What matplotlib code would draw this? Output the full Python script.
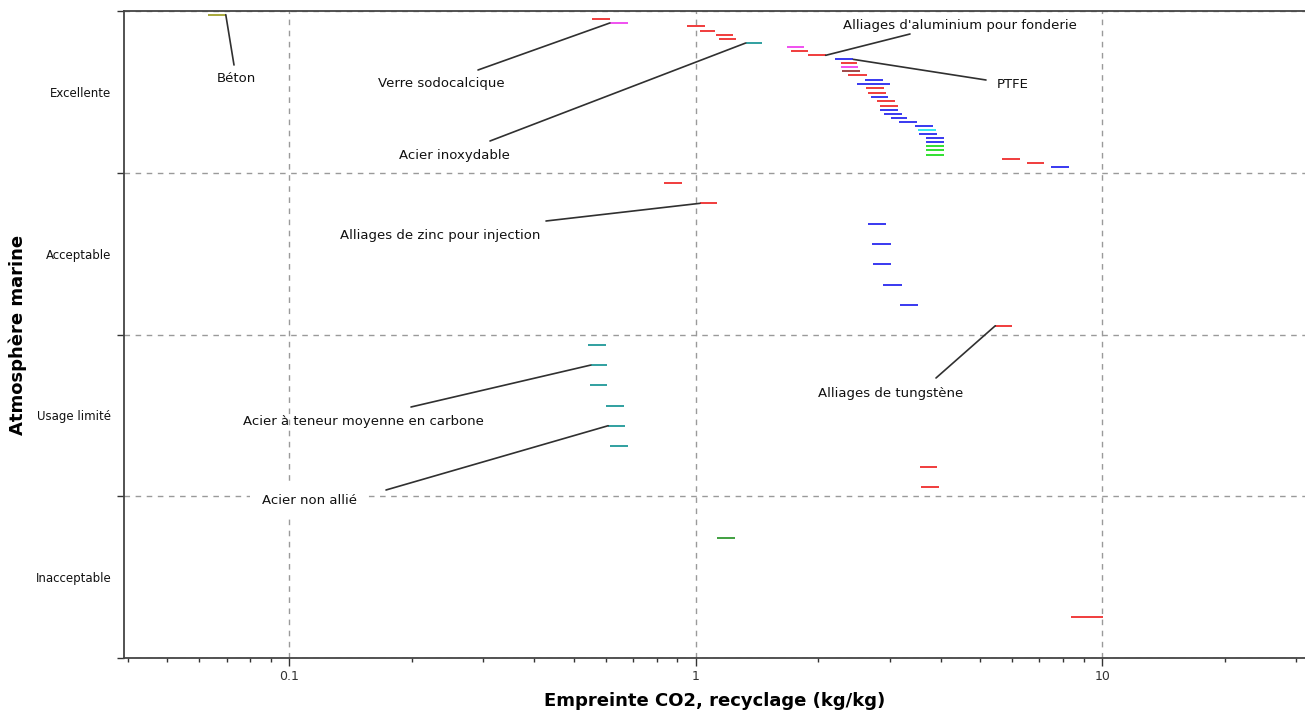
import matplotlib
matplotlib.use("Agg")
import matplotlib.pyplot as plt
from matplotlib.ticker import FixedLocator, NullFormatter, LogLocator, FixedFormatter

plt.rcParams['font.family'] = ['DejaVu Sans']

# ---------------- data ----------------
categories = ["Inacceptable", "Usage limité", "Acceptable", "Excellente"]

x_low = [0.0629, 0.556, 0.614, 0.952, 1.023, 1.120, 1.137, 1.325, 1.672, 1.710,
         1.883, 2.202, 2.274, 2.274, 2.291, 2.362, 2.605, 2.494, 2.624, 2.649,
         2.690, 2.793, 2.836, 2.836, 2.905, 3.018, 3.158, 3.464, 3.524, 3.543,
         3.680, 3.680, 3.680, 3.680, 3.680, 5.669, 6.510, 7.469,
         0.836, 1.023, 2.654, 2.710, 2.731, 2.884, 3.181, 5.449,
         0.543, 0.551, 0.548, 0.600, 0.608, 0.614, 3.551, 3.578,
         1.128, 8.381]
x_high = [0.0697, 0.614, 0.679, 1.050, 1.116, 1.235, 1.252, 1.451, 1.844, 1.883,
          2.085, 2.438, 2.494, 2.508, 2.532, 2.630, 2.889, 3.001, 2.905, 2.929,
          2.972, 3.087, 3.135, 3.135, 3.212, 3.311, 3.498, 3.828, 3.894, 3.923,
          4.081, 4.081, 4.081, 4.081, 4.081, 6.279, 7.168, 8.286,
          0.924, 1.128, 2.929, 3.023, 3.023, 3.212, 3.524, 5.979,
          0.599, 0.605, 0.605, 0.664, 0.668, 0.679, 3.923, 3.954,
          1.247, 10.05]
y_rating = [3.977, 3.952, 3.926, 3.905, 3.876, 3.852, 3.827, 3.802, 3.777, 3.751,
            3.726, 3.701, 3.677, 3.652, 3.627, 3.602, 3.575, 3.551, 3.526, 3.493,
            3.466, 3.442, 3.415, 3.390, 3.365, 3.340, 3.314, 3.289, 3.264, 3.240,
            3.213, 3.188, 3.164, 3.139, 3.112, 3.085, 3.062, 3.037,
            2.935, 2.811, 2.685, 2.560, 2.434, 2.308, 2.181, 2.054,
            1.937, 1.811, 1.686, 1.560, 1.436, 1.309, 1.181, 1.055,
            0.744, 0.252]
families = ["olive", "red", "magenta", "red", "red", "red", "red", "teal", "magenta", "red",
            "red", "blue", "red", "magenta", "brown", "red", "blue", "blue", "red", "red",
            "blue", "red", "red", "blue", "blue", "blue", "blue", "blue", "cyan", "blue",
            "blue", "blue", "green", "green", "green", "red", "red", "blue",
            "red", "red", "blue", "blue", "blue", "blue", "blue", "red",
            "teal", "teal", "teal", "teal", "teal", "teal", "red", "red",
            "dkgreen", "red"]

labels = ["Béton", "Verre sodocalcique", "Acier inoxydable",
          "Alliages d'aluminium pour fonderie", "PTFE",
          "Alliages de zinc pour injection", "Alliages de tungstène",
          "Acier à teneur moyenne en carbone", "Acier non allié"]
label_target = [0, 2, 7, 10, 11, 39, 45, 47, 50]   # index of the bar each label points at
label_side = ["high", "low", "low", "high", "high", "low", "low", "low", "low"]

x_ticks = [0.1, 1, 10]
x_ticklabels = ["0.1", "1", "10"]

# ---------------- style ----------------
palette = {"olive": "#a8a83a", "red": "#f03c3c", "magenta": "#f050f0", "teal": "#30a0a0",
           "blue": "#3838f0", "brown": "#a04848", "cyan": "#30e8f0", "green": "#30e030",
           "dkgreen": "#40a040"}

W, H = 1305, 713
fig = plt.figure(figsize=(W / 100, H / 100), dpi=100)
ax = fig.add_axes([124 / W, 1 - 658 / H, 1 - 124 / W, (658 - 11) / H])

ax.set_xscale("log")
ax.set_xlim(0.03916, 31.5)
ax.set_ylim(0, 4)

ax.hlines(y_rating, x_low, x_high, colors=[palette[f] for f in families], lw=1.4, zorder=3)

# leader-line text centres and line ends (figure pixels, from top)
text_pos = [(236, 78), (441, 83), (454, 155), (960, 25), (1013, 84),
            (440, 235), (891, 393), (363, 422), (309, 501)]
line_end = [(234, 65), (478, 70), (490, 141), (910, 34), (986, 80),
            (546, 221), (936, 378), (411, 407), (386, 490)]

for lab, idx, side, tp, le in zip(labels, label_target, label_side, text_pos, line_end):
    px = x_high[idx] if side == "high" else x_low[idx]
    ax.annotate("", xy=(px, y_rating[idx]), xycoords="data",
                xytext=(le[0], H - le[1]), textcoords="figure pixels",
                arrowprops=dict(arrowstyle="-", shrinkA=0, shrinkB=0, color="#303030", lw=1.2),
                zorder=4, annotation_clip=False)
    kw = {}
    if lab == "Acier non allié":
        kw["bbox"] = dict(facecolor="white", edgecolor="none", pad=8)
    fig.text(tp[0] / W, 1 - tp[1] / H, lab, ha="center", va="center", fontsize=9.5,
             color="#111111", zorder=5, **kw)

# axes styling
for s in ["right"]:
    ax.spines[s].set_visible(False)
for s in ["left", "bottom", "top"]:
    ax.spines[s].set_color("#444444")
    ax.spines[s].set_linewidth(1.3)

ax.xaxis.set_major_locator(FixedLocator(x_ticks))
ax.xaxis.set_major_formatter(FixedFormatter(x_ticklabels))
ax.xaxis.set_minor_locator(LogLocator(base=10, subs=range(2, 10)))
ax.xaxis.set_minor_formatter(NullFormatter())
ax.tick_params(axis="x", which="major", length=6, width=1, colors="#333333", labelsize=9, pad=3)
ax.tick_params(axis="x", which="minor", length=3, width=1, colors="#333333")

ax.yaxis.set_major_locator(FixedLocator([0, 1, 2, 3, 4]))
ax.yaxis.set_major_formatter(NullFormatter())
ax.yaxis.set_minor_locator(FixedLocator([0.5, 1.5, 2.5, 3.5]))
ax.yaxis.set_minor_formatter(FixedFormatter(categories))
ax.tick_params(axis="y", which="major", length=5, width=1, colors="#333333")
ax.tick_params(axis="y", which="minor", length=0, labelsize=8.5, pad=9, labelcolor="#111111")

ax.grid(True, which="major", axis="both", linestyle=(0, (4, 4)), color="#9a9a9a", lw=1)
ax.set_axisbelow(True)

ax.set_xlabel("Empreinte CO2, recyclage (kg/kg)", fontsize=13, fontweight="bold", labelpad=6)
ax.set_ylabel("Atmosphère marine", fontsize=13, fontweight="bold", labelpad=6)

fig.savefig("out.png", dpi=100)
